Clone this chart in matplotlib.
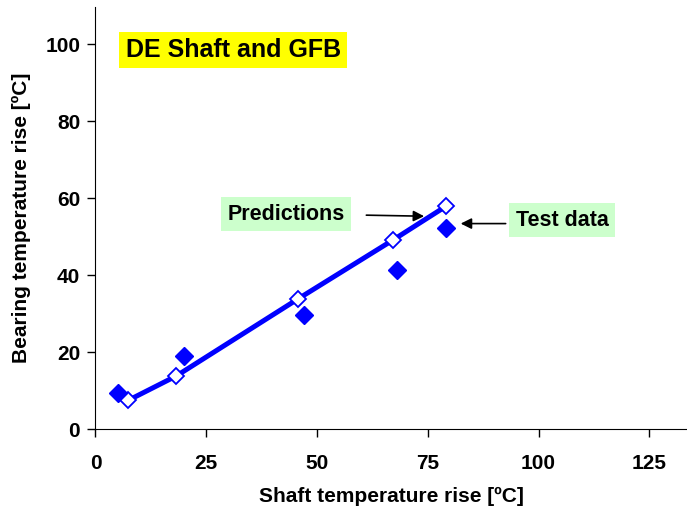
import matplotlib.pyplot as plt

plt.rcParams['font.family'] = ['Liberation Sans', 'DejaVu Sans']
plt.rcParams['font.weight'] = 'bold'

# bearing temperature rise vs shaft temperature rise
pred_x = [7.4, 18.2, 45.8, 67.1, 79.1]
pred_y = [7.5, 13.8, 33.9, 49.1, 57.9]
test_x = [5.1, 20.0, 47.0, 68.0, 79.0]
test_y = [9.5, 19.0, 29.6, 41.3, 52.3]

x_ticks = [0, 25, 50, 75, 100, 125]
y_ticks = [0, 20, 40, 60, 80, 100]

fig = plt.figure(figsize=(6.87, 5.14), dpi=100)
ax = fig.add_axes([0.139, 0.165, 0.861, 0.821])

ax.plot(pred_x, pred_y, color='#0000ff', lw=3.6, zorder=2)
ax.plot(pred_x, pred_y, ls='none', marker='D', ms=8, mfc='white',
        mec='#0000ff', mew=1.3, zorder=3)
ax.plot(test_x, test_y, ls='none', marker='D', ms=9.5, color='#0000ff', zorder=4)

ax.set_xlim(0, 133.5)
ax.set_ylim(0, 109.6)
ax.set_xticks(x_ticks)
ax.set_yticks(y_ticks)
ax.tick_params(labelsize=15, length=6, width=1, pad=12)
ax.tick_params(axis='y', pad=5)
for lab in ax.get_xticklabels() + ax.get_yticklabels():
    lab.set_fontweight('bold')
ax.spines['top'].set_visible(False)
ax.spines['right'].set_visible(False)

ax.set_xlabel('Shaft temperature rise [ºC]', fontsize=15, fontweight='bold', labelpad=10)
ax.set_ylabel('Bearing temperature rise [ºC]', fontsize=15, fontweight='bold', labelpad=10)

ax.text(6.8, 98.5, 'DE Shaft and GFB', fontsize=18, fontweight='bold', va='center',
        bbox=dict(boxstyle='square,pad=0.25', fc='#ffff00', ec='none'))
ax.text(29.8, 55.8, 'Predictions', fontsize=15.5, fontweight='bold', va='center',
        bbox=dict(boxstyle='square,pad=0.3', fc='#ccffcc', ec='none'))
ax.text(94.8, 54.3, 'Test data', fontsize=15.5, fontweight='bold', va='center',
        bbox=dict(boxstyle='square,pad=0.3', fc='#ccffcc', ec='none'))

ax.annotate('', xy=(74.8, 55.3), xytext=(60.5, 55.6),
            arrowprops=dict(arrowstyle='-|>', color='black', lw=1.2, mutation_scale=16))
ax.annotate('', xy=(81.8, 53.4), xytext=(93.2, 53.4),
            arrowprops=dict(arrowstyle='-|>', color='black', lw=1.2, mutation_scale=16))

fig.savefig('out.png', dpi=100)
